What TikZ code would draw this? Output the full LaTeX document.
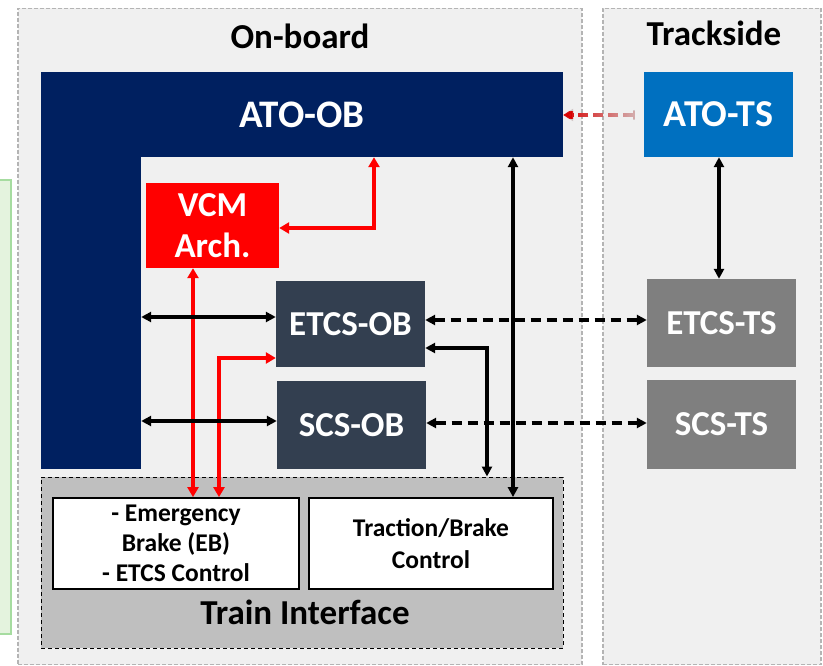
\documentclass[tikz,border=0pt]{standalone}
\usepackage{fontspec}
\setmainfont{Carlito}
\usetikzlibrary{arrows.meta,calc,fadings}
\definecolor{navy}{HTML}{002060}
\definecolor{atots}{HTML}{0070C0}
\definecolor{slate}{HTML}{333F50}
\definecolor{tsgray}{HTML}{7F7F7F}
\definecolor{tigray}{HTML}{BFBFBF}
\definecolor{panelbg}{HTML}{F0F0F0}
\definecolor{panelline}{HTML}{B4B4B4}
\definecolor{greenfill}{HTML}{E4F3DE}
\definecolor{greenline}{HTML}{A6DCA0}
\definecolor{vcmred}{HTML}{FF0000}
\definecolor{fadegray}{HTML}{D2C8C8}
\tikzset{
  blockbox/.style={draw=none, inner sep=0pt, align=center, text=white,
    font=\bfseries\fontsize{35}{40}\selectfont},
  panelbox/.style={draw=panelline, line width=1.8pt, dash pattern=on 4pt off 2pt,
    fill=panelbg, inner sep=0pt},
  whitebox/.style={draw=black, line width=1.8pt, fill=white, inner sep=0pt, align=center,
    font=\bfseries\fontsize{25.5}{30}\selectfont},
  titletext/.style={inner sep=0pt, font=\bfseries\fontsize{35}{40}\selectfont},
  blkarr/.style={line width=3.2pt, black,
    {Triangle[length=10pt,width=10pt]}-{Triangle[length=10pt,width=10pt]}},
  blkdash/.style={blkarr, dash pattern=on 10pt off 6pt},
  redarr/.style={line width=3.4pt, vcmred,
    {Triangle[length=10pt,width=11pt]}-{Triangle[length=10pt,width=11pt]}},
  reddash/.style={line width=3.6pt, dash pattern=on 10pt off 5pt,
    {Bar[width=10pt,line width=2pt]}-{Triangle[length=10pt,width=12pt]}},
}
\begin{document}
\begin{tikzpicture}[x=1pt,y=-1pt]
\useasboundingbox (0,0) rectangle (823,666);
\fill[white] (0,0) rectangle (823,666);
% green box at the left edge
\node[draw=greenline, line width=1.5pt, fill=greenfill, inner sep=0pt,
  minimum width=20pt, minimum height=454pt] (green) at (1,407) {};
% panels
\node[panelbox, minimum width=564pt, minimum height=656pt] (onboard) at (300,336.5) {};
\node[panelbox, minimum width=218pt, minimum height=656pt] (trackside) at (712,336.5) {};
\node[titletext] (obtitle) at (300,36) {On-board};
\node[titletext] (tstitle) at (714,33) {Trackside};
% ATO-OB (L shape)
\node[blockbox, fill=navy, minimum width=100pt, minimum height=397pt] (atoobl) at (91,270.5) {};
\node[blockbox, fill=navy, minimum width=522pt, minimum height=85pt,
  font=\bfseries\fontsize{39}{44}\selectfont] (atoob) at (302,114.5) {ATO-OB};
% trackside boxes
\node[blockbox, fill=atots, minimum width=149pt, minimum height=85pt,
  font=\bfseries\fontsize{38}{44}\selectfont] (atots) at (718.5,114.5) {ATO-TS};
\node[blockbox, fill=tsgray, minimum width=149pt, minimum height=88pt] (etcsts) at (721.5,323) {ETCS-TS};
\node[blockbox, fill=tsgray, minimum width=149pt, minimum height=89pt] (scsts) at (721.5,424.5) {SCS-TS};
% on-board boxes
\node[blockbox, fill=vcmred, minimum width=133pt, minimum height=85pt,
  font=\bfseries\fontsize{35}{41}\selectfont] (vcm) at (212.5,225.5) {VCM\\Arch.};
\node[blockbox, fill=slate, minimum width=149pt, minimum height=86pt] (etcsob) at (350.5,324) {ETCS-OB};
\node[blockbox, fill=slate, minimum width=149pt, minimum height=88pt] (scsob) at (351.5,425) {SCS-OB};
% train interface
\node[draw=black, line width=1pt, dash pattern=on 4pt off 3pt, fill=tigray, inner sep=0pt,
  minimum width=522pt, minimum height=171pt] (ti) at (302,562.5) {};
\node[titletext] (tilabel) at (305,612) {Train Interface};
\node[whitebox, minimum width=246pt, minimum height=91pt] (eb) at (176,543.5)
  {- Emergency\\Brake (EB)\\- ETCS Control};
\node[whitebox, minimum width=244pt, minimum height=91pt,
  font=\bfseries\fontsize{25.5}{32}\selectfont] (tb) at (431,543.5) {Traction/Brake\\Control};
% junction coordinates
\coordinate (xr1) at (374,0);
\coordinate (xr2) at (193,0);
\coordinate (xr3) at (219,0);
\coordinate (xb1) at (513,0);
\coordinate (xb2) at (487,0);
\coordinate (xb3) at (719,0);
\coordinate (yr1) at (0,228);
\coordinate (yr3) at (0,358);
\coordinate (yb1) at (0,317);
\coordinate (yb2) at (0,421);
\coordinate (yd1) at (0,320);
\coordinate (yd2) at (0,423);
\coordinate (yb3) at (0,348);
\coordinate (ya) at (0,115);
% red dashed ATO-TS -> ATO-OB
\draw[reddash, fadegray, shorten <=9pt] (atots.west |- ya) -- (atoob.east |- ya);
\draw[reddash, vcmred!85!black, shorten <=9pt, path fading=east] (atots.west |- ya) -- (atoob.east |- ya);
% red connectors
\draw[redarr] (vcm.east |- yr1) -| (atoob.south -| xr1);
\draw[redarr] (vcm.south -| xr2) -- (eb.north -| xr2);
\draw[redarr] (etcsob.west |- yr3) -| (eb.north -| xr3);
% black connectors
\draw[blkarr] (atoobl.east |- yb1) -- (etcsob.west |- yb1);
\draw[blkarr] (atoobl.east |- yb2) -- (scsob.west |- yb2);
\draw[blkdash] (etcsob.east |- yd1) -- (etcsts.west |- yd1);
\draw[blkdash] (scsob.east |- yd2) -- (scsts.west |- yd2);
\draw[blkarr] (atots.south -| xb3) -- (etcsts.north -| xb3);
\draw[blkarr] (atoob.south -| xb1) -- (tb.north -| xb1);
\draw[blkarr] (etcsob.east |- yb3) -| (ti.north -| xb2);
\end{tikzpicture}
\end{document}
